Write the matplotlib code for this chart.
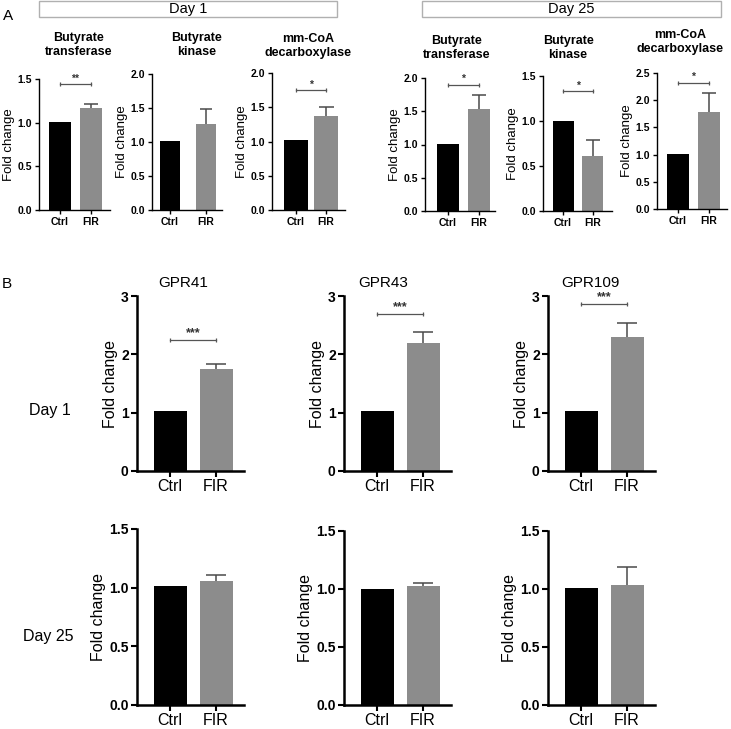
import matplotlib
matplotlib.use('agg')
import matplotlib.pyplot as plt
from matplotlib import font_manager
from matplotlib.patches import Rectangle

# ---- data ----
enzymes = ['Butyrate\ntransferase', 'Butyrate\nkinase', 'mm-CoA\ndecarboxylase']
groups = ['Ctrl', 'FIR']

enz_d1_ctrl = [1.01, 1.02, 1.02]
enz_d1_fir = [1.17, 1.27, 1.37]
enz_d1_err = [0.04, 0.21, 0.14]
enz_d1_sig = ['**', '', '*']
enz_d1_sig_y = [1.44, None, 1.75]
enz_d1_ymax = [1.5, 2.0, 2.0]

enz_d25_ctrl = [1.01, 1.00, 1.02]
enz_d25_fir = [1.54, 0.61, 1.78]
enz_d25_err = [0.21, 0.18, 0.35]
enz_d25_sig = ['*', '*', '*']
enz_d25_sig_y = [1.90, 1.33, 2.32]
enz_d25_ymax = [2.0, 1.5, 2.5]

receptors = ['GPR41', 'GPR43', 'GPR109']
gpr_d1_ctrl = [1.02, 1.02, 1.02]
gpr_d1_fir = [1.75, 2.19, 2.29]
gpr_d1_err = [0.08, 0.20, 0.25]
gpr_d1_sig = ['***', '***', '***']
gpr_d1_sig_y = [2.25, 2.69, 2.86]

gpr_d25_ctrl = [1.01, 1.00, 1.01]
gpr_d25_fir = [1.06, 1.025, 1.035]
gpr_d25_err = [0.05, 0.025, 0.155]

W, H = 731, 729
names = {f.name for f in font_manager.fontManager.ttflist}
NARROW = 'Liberation Sans Narrow' if 'Liberation Sans Narrow' in names else 'Liberation Sans'
plt.rcParams['font.family'] = ['Liberation Sans', 'DejaVu Sans']

fig = plt.figure(figsize=(W / 100, H / 100), dpi=100)


def fx(px):
    return px / W


def fy(py):
    return 1 - py / H


def bar_panel(box, ctrl, fir, err, ymax, step, sig, sig_y, big):
    # box: axis left/right, y of top tick / zero, bar centres and width in pixels
    xa, xe, yt, yb, c1, c2, bw = box
    ax = fig.add_axes([fx(xa), fy(yb), (xe - xa) / W, (yb - yt) / H])
    u = 1.0 / (c2 - c1)
    ax.set_xlim(-(c1 - xa) * u, 1 + (xe - c2) * u)
    ax.set_ylim(0, ymax)
    ax.bar([0, 1], [ctrl, fir], width=bw * u, color=['black', '#8c8c8c'], zorder=2)
    # upper error bar only
    ax.plot([1, 1], [fir, fir + err], color='#4a4a4a', lw=1.1, zorder=3, solid_capstyle='butt')
    ax.plot([1], [fir + err], marker='_', ms=bw * 0.45, mew=1.1, color='#4a4a4a', zorder=3)
    if sig:
        ax.plot([0, 1], [sig_y, sig_y], color='#555555', lw=0.9)
        ax.plot([0, 1], [sig_y, sig_y], ls='none', marker='|', ms=3.5, mew=0.9, color='#555555')
        ax.text(0.5, sig_y + ymax * 0.005, sig, ha='center', va='bottom',
                fontsize=9 if big else 7.5, fontweight='bold', color='#333333')
    ticks = [i * step for i in range(int(round(ymax / step)) + 1)]
    ax.set_yticks(ticks)
    ax.set_xticks([0, 1])
    ax.spines['top'].set_visible(False)
    ax.spines['right'].set_visible(False)
    lw = 1.8 if big else 1.0
    ax.spines['left'].set_linewidth(lw)
    ax.spines['bottom'].set_linewidth(lw)
    if big:
        fmt = '%d' if step == 1 else '%.1f'
        ax.set_yticklabels([fmt % t for t in ticks], fontsize=10, fontweight='bold', family=NARROW)
        ax.set_xticklabels(groups, fontsize=11.5, family=NARROW)
        ax.tick_params(axis='both', length=4, width=1.5, pad=2)
        ax.set_ylabel('Fold change', fontsize=11.5, labelpad=2)
    else:
        ax.set_yticklabels(['%.1f' % t for t in ticks], fontsize=7.5, fontweight='bold')
        ax.set_xticklabels(groups, fontsize=7.5, fontweight='bold')
        ax.tick_params(axis='both', length=3, width=1, pad=2)
        ax.set_ylabel('Fold change', fontsize=9.5, labelpad=2)
    return ax


# ---- panel A: enzymes ----
a_boxes = [(39, 110, 79, 210, 60, 90.5, 22), (152, 222, 74, 210, 169.5, 206, 20),
           (272, 345, 73, 210, 295.5, 326, 24), (425, 495, 78, 211, 447.5, 479, 22),
           (543, 612, 76, 211, 563, 592.5, 21), (657, 727, 73, 209, 678, 708.5, 22)]
a_title_x = [79, 197, 308, 457, 568, 680]
a_title_y = [45, 45, 46, 48, 48, 42]

a_sets = [(enz_d1_ctrl, enz_d1_fir, enz_d1_err, enz_d1_ymax, enz_d1_sig, enz_d1_sig_y),
          (enz_d25_ctrl, enz_d25_fir, enz_d25_err, enz_d25_ymax, enz_d25_sig, enz_d25_sig_y)]
for d, (ctrl, fir, err, ymax, sig, sig_y) in enumerate(a_sets):
    for i in range(3):
        k = d * 3 + i
        bar_panel(a_boxes[k], ctrl[i], fir[i], err[i], ymax[i], 0.5, sig[i], sig_y[i], False)
        fig.text(fx(a_title_x[k]), fy(a_title_y[k]), enzymes[i], ha='center', va='center',
                 fontsize=9, fontweight='bold', linespacing=1.3)

for x0, x1, label in [(39, 337, 'Day 1'), (422, 721, 'Day 25')]:
    fig.add_artist(Rectangle((fx(x0), fy(17)), (x1 - x0) / W, 16 / H, transform=fig.transFigure,
                             facecolor='white', edgecolor='#b0b0b0', lw=1))
    fig.text(fx((x0 + x1) / 2), fy(9), label, ha='center', va='center', fontsize=10.5)

fig.text(fx(3), fy(16), 'A', ha='left', va='center', fontsize=11)
fig.text(fx(2), fy(284), 'B', ha='left', va='center', fontsize=11)

# ---- panel B: receptors ----
b_axis_x = [137, 344, 548]
b_title_x = [183, 383, 590]
for i in range(3):
    xa = b_axis_x[i]
    box1 = (xa, xa + 107, 296, 471, xa + 33, xa + 79, 33)
    bar_panel(box1, gpr_d1_ctrl[i], gpr_d1_fir[i], gpr_d1_err[i], 3, 1,
              gpr_d1_sig[i], gpr_d1_sig_y[i], True)
    fig.text(fx(b_title_x[i]), fy(283), receptors[i], ha='center', va='center', fontsize=11)
    box2 = (xa, xa + 107, 529 if i == 0 else 531, 705, xa + 33, xa + 79, 33)
    bar_panel(box2, gpr_d25_ctrl[i], gpr_d25_fir[i], gpr_d25_err[i], 1.5, 0.5, '', None, True)

fig.text(fx(50), fy(411), 'Day 1', ha='center', va='center', fontsize=11.5, family=NARROW)
fig.text(fx(48), fy(637), 'Day 25', ha='center', va='center', fontsize=11.5, family=NARROW)

fig.savefig('out.png', dpi=100)
plt.close(fig)
